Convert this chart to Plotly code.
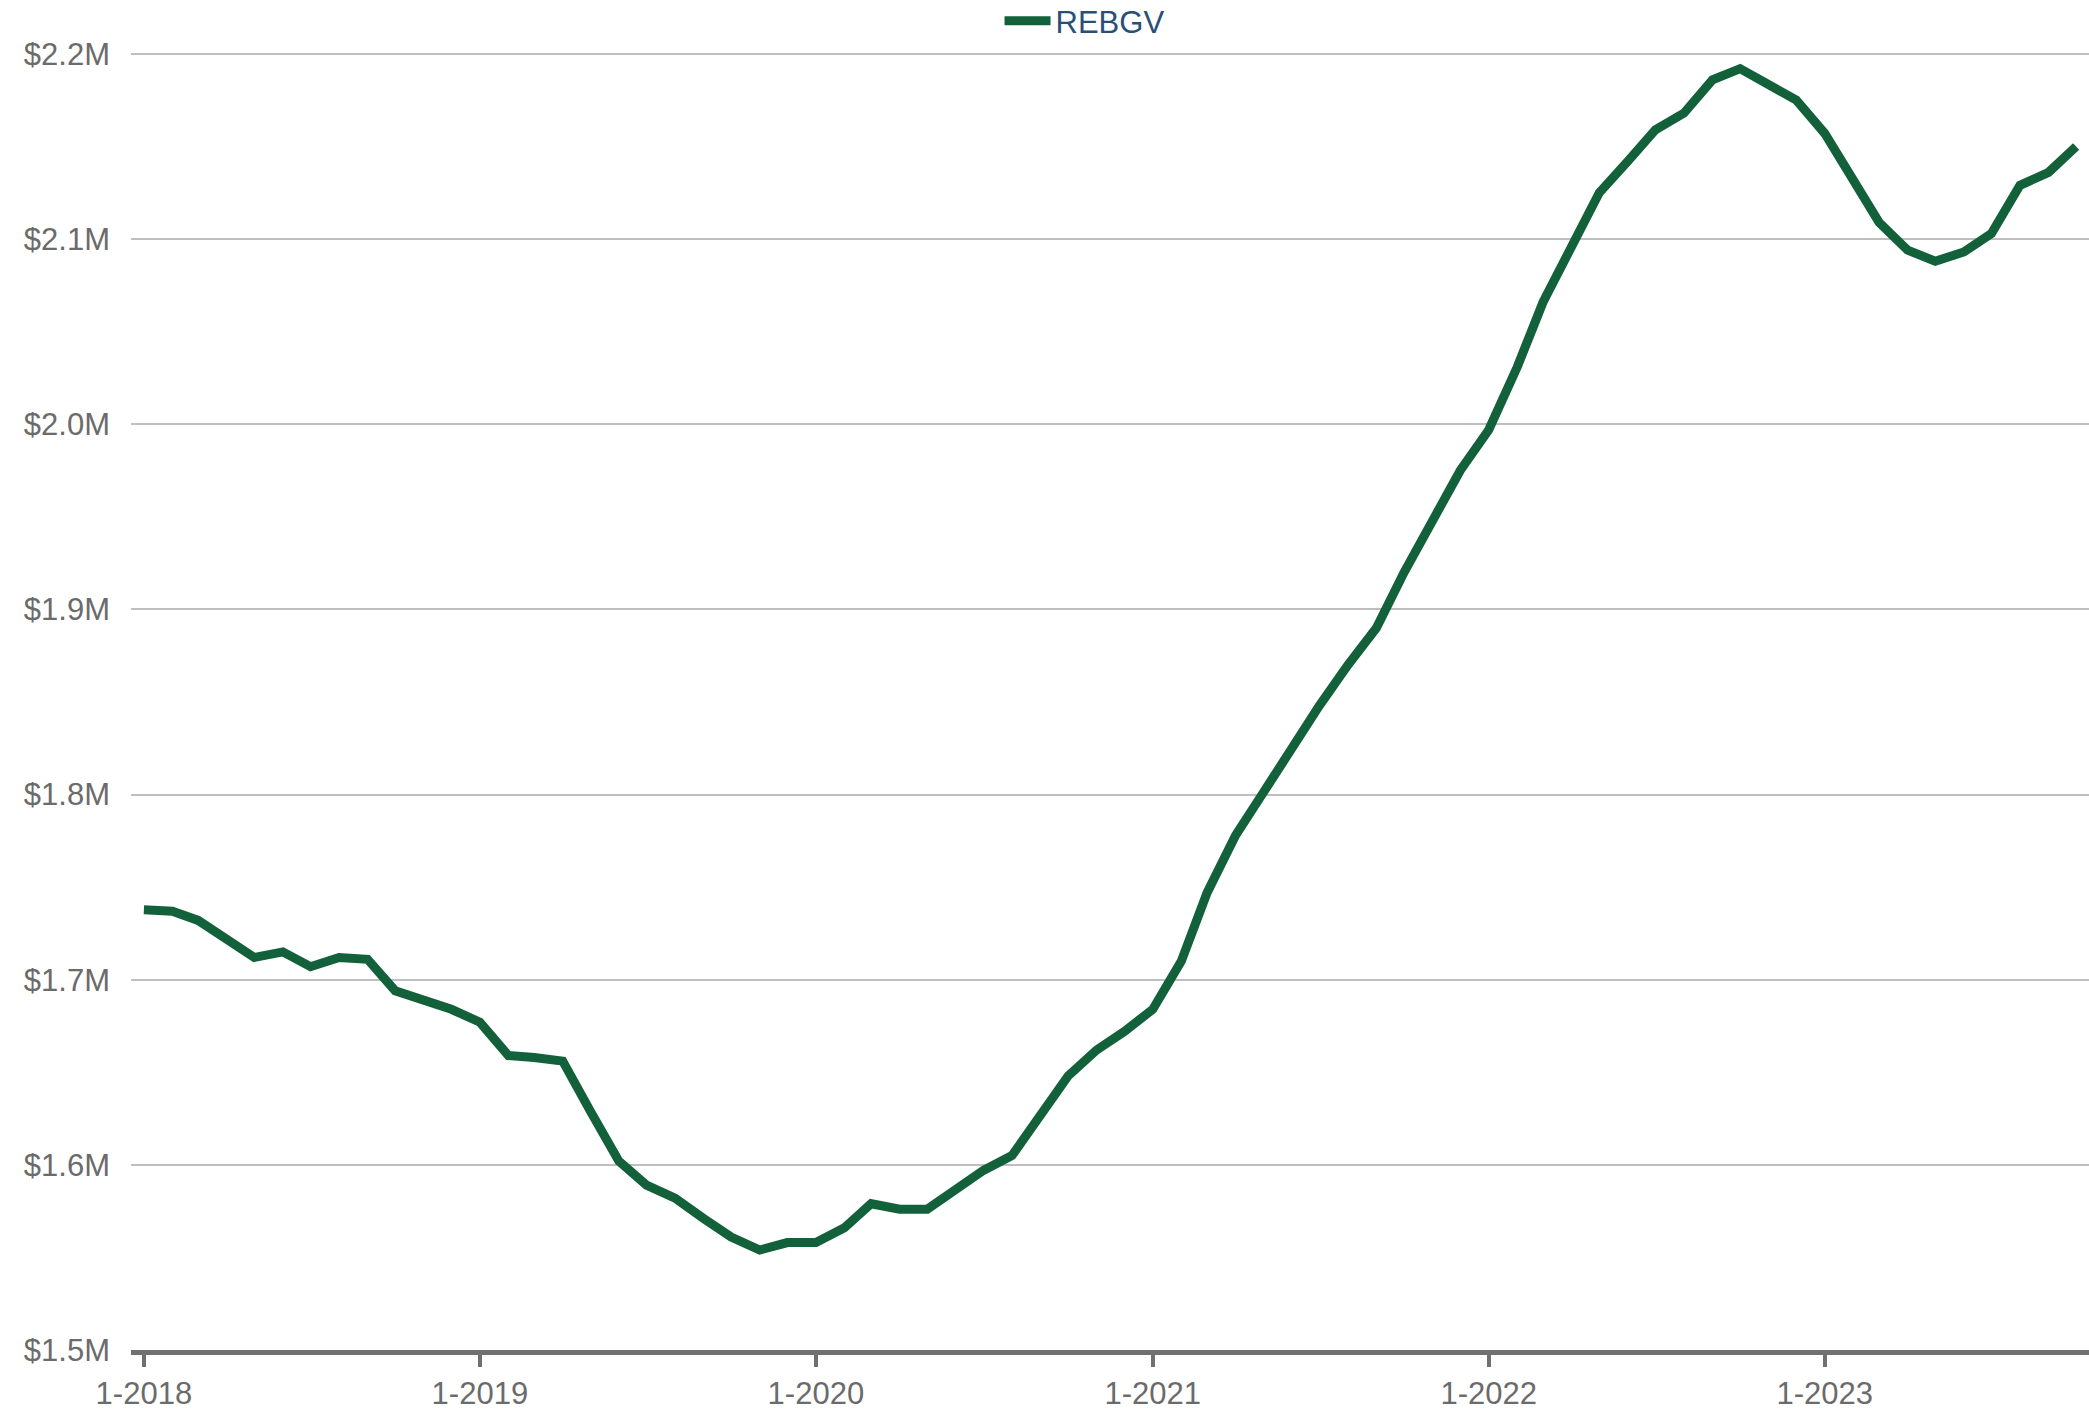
import plotly.graph_objects as go

dates = [f"{y}-{m:02d}-01" for y in range(2018, 2024) for m in range(1, 13)][:70]

values_m = [
    1.7377, 1.737, 1.732, 1.722, 1.712, 1.715, 1.707, 1.712, 1.711, 1.694,
    1.689, 1.684, 1.677, 1.659, 1.658, 1.656, 1.629, 1.602, 1.589, 1.582,
    1.571, 1.561, 1.554, 1.558, 1.558, 1.566, 1.579, 1.576, 1.576, 1.586,
    1.597, 1.605, 1.627, 1.648, 1.662, 1.672, 1.684, 1.710, 1.747, 1.778,
    1.801, 1.826, 1.848, 1.870, 1.890, 1.920, 1.949, 1.975, 1.997, 2.031,
    2.066, 2.096, 2.125, 2.142, 2.159, 2.168, 2.186, 2.192, 2.183, 2.175,
    2.157, 2.132, 2.109, 2.094, 2.088, 2.093, 2.103, 2.129, 2.136, 2.150,
]
values = [v * 1_000_000 for v in values_m]

series_name = "REBGV"

y_tickvals = [1_500_000, 1_600_000, 1_700_000, 1_800_000, 1_900_000, 2_000_000, 2_100_000, 2_200_000]
y_ticktext = ["$1.5M", "$1.6M", "$1.7M", "$1.8M", "$1.9M", "$2.0M", "$2.1M", "$2.2M"]
x_tickvals = ["2018-01-01", "2019-01-01", "2020-01-01", "2021-01-01", "2022-01-01", "2023-01-01"]
x_ticktext = ["1-2018", "1-2019", "1-2020", "1-2021", "1-2022", "1-2023"]

fig = go.Figure()
fig.add_trace(go.Scatter(
    x=dates, y=values, mode="lines", name=series_name,
    line=dict(color="#13613A", width=9),
))

fig.update_layout(
    width=2089, height=1410,
    margin=dict(l=131, r=0, t=52, b=60, autoexpand=False),
    paper_bgcolor="white", plot_bgcolor="white",
    font=dict(family="Liberation Sans, Arial, sans-serif", size=31, color="#6b6b6b"),
    showlegend=True,
    legend=dict(
        orientation="h", x=0.487, xanchor="center", y=1.0239, yanchor="middle",
        font=dict(size=31, color="#2a4f77"),
        bgcolor="rgba(0,0,0,0)",
        itemwidth=46,
    ),
    xaxis=dict(
        type="date",
        range=["2017-12-18", "2023-10-15"],
        tickvals=x_tickvals, ticktext=x_ticktext,
        showgrid=False, zeroline=False,
        showline=True, linecolor="#707070", linewidth=5,
        ticks="outside", ticklen=12, tickwidth=4, tickcolor="#707070",
        tickfont=dict(size=31, color="#6b6b6b"),
    ),
    yaxis=dict(
        range=[1_500_000, 2_201_000],
        tickvals=y_tickvals, ticktext=y_ticktext,
        showgrid=True, gridcolor="#bfbfbf", gridwidth=2,
        zeroline=False, showline=False, ticks="",
        ticklabelstandoff=20,
        tickfont=dict(size=31, color="#6b6b6b"),
    ),
)

fig.write_html(
    "out.html",
    config={"displayModeBar": False},
    post_script="document.body.style.margin='0px';",
)
